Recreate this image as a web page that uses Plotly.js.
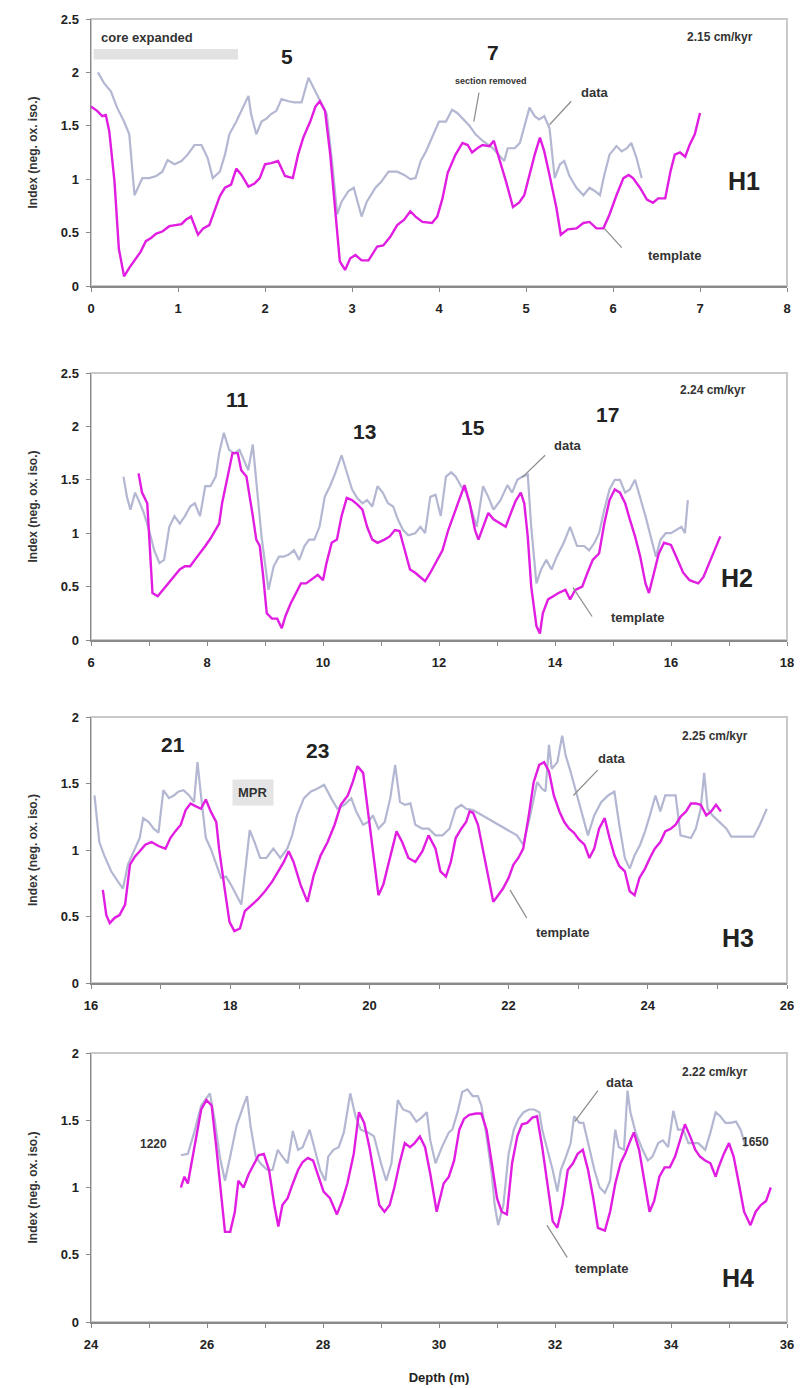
<!DOCTYPE html>
<html>
<head>
<meta charset="utf-8">
<script src="https://cdn.plot.ly/plotly-3.0.1.min.js"></script>
<style>
html,body{margin:0;padding:0;background:#fff;}
#chart{width:801px;height:1388px;}
</style>
</head>
<body>
<div id="chart"></div>
<script>
// ---------- H1 ----------
const h1TemplateDepth = [0,0.07,0.13,0.17,0.21,0.27,0.32,0.38,0.44,0.50,0.57,0.63,0.69,0.75,0.82,0.90,0.96,1.04,1.09,1.15,1.23,1.29,1.36,1.42,1.48,1.54,1.61,1.67,1.73,1.81,1.88,1.94,2.00,2.07,2.15,2.23,2.32,2.38,2.44,2.52,2.58,2.63,2.69,2.75,2.81,2.86,2.92,2.98,3.04,3.11,3.19,3.29,3.36,3.44,3.52,3.60,3.67,3.73,3.81,3.92,3.98,4.04,4.10,4.19,4.27,4.33,4.38,4.44,4.50,4.58,4.63,4.69,4.77,4.85,4.92,4.98,5.04,5.10,5.16,5.21,5.27,5.35,5.40,5.48,5.58,5.66,5.73,5.81,5.89,5.96,6.04,6.12,6.18,6.23,6.31,6.39,6.46,6.52,6.60,6.66,6.71,6.77,6.83,6.88,6.94,7.00];
const h1Template = [1.68,1.64,1.59,1.60,1.45,0.98,0.35,0.09,0.17,0.24,0.32,0.42,0.45,0.49,0.51,0.56,0.57,0.58,0.62,0.65,0.48,0.54,0.57,0.70,0.84,0.92,0.95,1.10,1.04,0.93,0.96,1.01,1.14,1.15,1.17,1.03,1.01,1.23,1.39,1.54,1.68,1.73,1.64,1.23,0.67,0.23,0.15,0.26,0.29,0.24,0.24,0.37,0.38,0.46,0.57,0.62,0.70,0.65,0.60,0.59,0.65,0.82,1.06,1.23,1.34,1.32,1.25,1.29,1.32,1.31,1.36,1.20,0.98,0.74,0.78,0.85,1.04,1.23,1.39,1.26,1.04,0.73,0.48,0.53,0.54,0.59,0.60,0.54,0.54,0.67,0.85,1.01,1.04,1.01,0.92,0.81,0.78,0.82,0.82,1.07,1.23,1.25,1.21,1.32,1.42,1.62];
const h1DataDepth = [0.08,0.15,0.23,0.30,0.38,0.44,0.50,0.54,0.59,0.67,0.75,0.82,0.88,0.96,1.04,1.11,1.19,1.27,1.34,1.40,1.48,1.54,1.59,1.67,1.75,1.81,1.84,1.90,1.96,2.02,2.07,2.13,2.19,2.27,2.34,2.42,2.50,2.58,2.65,2.71,2.77,2.83,2.88,2.96,3.02,3.06,3.11,3.17,3.27,3.34,3.42,3.52,3.60,3.67,3.73,3.79,3.85,3.92,4.00,4.08,4.15,4.21,4.27,4.35,4.42,4.50,4.62,4.75,4.79,4.87,4.93,4.99,5.04,5.10,5.15,5.21,5.27,5.33,5.39,5.44,5.50,5.58,5.66,5.73,5.79,5.85,5.90,5.96,6.04,6.10,6.16,6.21,6.27,6.33];
const h1Data = [2.00,1.90,1.82,1.67,1.54,1.42,0.85,0.92,1.01,1.01,1.03,1.07,1.18,1.14,1.17,1.23,1.32,1.32,1.20,1.01,1.07,1.23,1.42,1.54,1.67,1.78,1.61,1.42,1.54,1.57,1.61,1.64,1.75,1.73,1.72,1.72,1.95,1.82,1.72,1.61,1.17,0.67,0.79,0.89,0.92,0.79,0.65,0.79,0.92,0.98,1.07,1.07,1.04,1.00,1.01,1.17,1.26,1.39,1.54,1.54,1.65,1.62,1.57,1.50,1.42,1.36,1.29,1.17,1.29,1.29,1.34,1.51,1.67,1.59,1.56,1.59,1.48,1.01,1.14,1.17,1.03,0.92,0.85,0.92,0.89,0.85,1.04,1.23,1.31,1.26,1.29,1.34,1.20,1.01];

// ---------- H2 ----------
const h2TemplateDepth = [6.82,6.88,6.97,7.06,7.15,7.24,7.32,7.41,7.53,7.62,7.71,7.79,7.88,7.97,8.06,8.15,8.21,8.26,8.35,8.44,8.53,8.59,8.68,8.74,8.79,8.85,8.91,8.97,9.03,9.12,9.21,9.29,9.35,9.44,9.53,9.62,9.71,9.79,9.91,10.00,10.06,10.15,10.24,10.32,10.41,10.50,10.59,10.68,10.76,10.85,10.94,11.06,11.15,11.24,11.32,11.41,11.50,11.59,11.68,11.76,11.85,11.94,12.06,12.16,12.27,12.35,12.44,12.53,12.62,12.68,12.76,12.85,12.94,13.06,13.15,13.24,13.32,13.41,13.47,13.53,13.59,13.68,13.74,13.79,13.88,13.97,14.06,14.18,14.26,14.35,14.47,14.56,14.65,14.76,14.85,14.94,15.03,15.12,15.21,15.29,15.38,15.47,15.56,15.62,15.71,15.79,15.88,16.00,16.09,16.21,16.32,16.47,16.56,16.68,16.76,16.85];
const h2Template = [1.56,1.38,1.28,0.44,0.41,0.47,0.53,0.58,0.66,0.69,0.69,0.75,0.81,0.88,0.95,1.03,1.09,1.28,1.50,1.75,1.75,1.59,1.53,1.34,1.16,0.94,0.88,0.59,0.25,0.20,0.20,0.11,0.22,0.34,0.44,0.53,0.53,0.56,0.61,0.56,0.72,0.91,0.94,1.16,1.33,1.31,1.27,1.22,1.06,0.94,0.91,0.94,0.97,1.03,1.02,0.84,0.66,0.63,0.59,0.55,0.63,0.72,0.84,1.03,1.19,1.31,1.45,1.28,1.03,0.94,1.06,1.19,1.13,1.09,1.06,1.19,1.30,1.38,1.28,0.97,0.50,0.13,0.06,0.25,0.38,0.41,0.44,0.47,0.38,0.47,0.50,0.63,0.75,0.81,1.09,1.31,1.41,1.38,1.28,1.13,0.97,0.78,0.53,0.44,0.63,0.81,0.91,0.89,0.78,0.63,0.56,0.53,0.59,0.75,0.84,0.97];
const h2DataDepth = [6.56,6.62,6.68,6.76,6.82,6.91,7.00,7.09,7.18,7.26,7.35,7.44,7.53,7.62,7.71,7.79,7.88,7.97,8.06,8.15,8.21,8.29,8.38,8.47,8.56,8.65,8.71,8.79,8.85,8.94,9.06,9.15,9.24,9.32,9.41,9.50,9.59,9.68,9.76,9.85,9.94,10.03,10.12,10.21,10.32,10.41,10.50,10.59,10.68,10.76,10.85,10.94,11.03,11.12,11.21,11.29,11.38,11.47,11.59,11.68,11.76,11.85,11.94,12.03,12.12,12.21,12.29,12.38,12.47,12.56,12.65,12.76,12.85,12.94,13.06,13.18,13.26,13.35,13.44,13.53,13.59,13.68,13.76,13.85,13.94,14.03,14.15,14.26,14.38,14.50,14.59,14.68,14.76,14.85,14.94,15.03,15.12,15.21,15.29,15.38,15.47,15.56,15.65,15.74,15.82,15.91,16.00,16.09,16.18,16.24,16.29];
const h2Data = [1.53,1.34,1.22,1.38,1.31,1.19,1.03,0.84,0.72,0.75,1.06,1.16,1.09,1.16,1.25,1.28,1.16,1.44,1.44,1.53,1.75,1.94,1.78,1.75,1.78,1.66,1.59,1.83,1.50,0.97,0.47,0.69,0.78,0.78,0.80,0.84,0.75,0.88,0.94,0.94,1.06,1.34,1.44,1.56,1.73,1.56,1.41,1.33,1.28,1.31,1.25,1.44,1.38,1.28,1.25,1.13,1.03,0.98,1.00,1.06,1.00,1.34,1.36,1.16,1.53,1.57,1.53,1.44,1.38,1.22,1.06,1.44,1.34,1.22,1.31,1.45,1.38,1.50,1.53,1.55,1.06,0.53,0.66,0.75,0.66,0.78,0.91,1.06,0.88,0.88,0.84,0.91,1.00,1.22,1.41,1.50,1.50,1.38,1.41,1.50,1.34,1.16,0.97,0.78,0.94,1.00,1.00,1.03,1.06,1.00,1.31];

// ---------- H3 ----------
const h3TemplateDepth = [16.17,16.22,16.27,16.34,16.41,16.49,16.56,16.63,16.70,16.78,16.87,16.97,17.07,17.14,17.21,17.29,17.36,17.43,17.50,17.58,17.65,17.72,17.80,17.84,17.92,17.99,18.06,18.14,18.21,18.31,18.40,18.50,18.60,18.69,18.77,18.84,18.91,19.01,19.11,19.20,19.30,19.40,19.50,19.59,19.69,19.76,19.83,19.91,19.98,20.05,20.13,20.20,20.30,20.39,20.47,20.56,20.66,20.76,20.85,20.95,21.02,21.10,21.17,21.24,21.32,21.39,21.44,21.49,21.56,21.63,21.71,21.78,21.85,21.92,22.00,22.07,22.14,22.21,22.29,22.36,22.44,22.51,22.58,22.65,22.73,22.80,22.87,22.94,23.01,23.09,23.16,23.23,23.30,23.38,23.45,23.52,23.59,23.67,23.74,23.81,23.88,23.96,24.03,24.10,24.18,24.25,24.33,24.40,24.47,24.55,24.62,24.69,24.76,24.84,24.91,24.98,25.05];
const h3Template = [0.70,0.51,0.45,0.49,0.51,0.59,0.89,0.95,0.99,1.04,1.06,1.03,1.01,1.09,1.14,1.19,1.30,1.35,1.33,1.31,1.38,1.29,1.21,1.01,0.71,0.46,0.39,0.41,0.54,0.59,0.63,0.69,0.76,0.84,0.91,0.99,0.91,0.74,0.61,0.81,0.96,1.06,1.19,1.34,1.41,1.51,1.63,1.58,1.29,1.01,0.66,0.74,0.96,1.14,1.06,0.94,0.91,0.99,1.11,1.01,0.84,0.80,0.91,1.09,1.16,1.21,1.29,1.28,1.19,1.01,0.81,0.61,0.66,0.71,0.79,0.89,0.94,1.01,1.26,1.51,1.64,1.66,1.59,1.41,1.29,1.21,1.16,1.13,1.08,1.04,0.94,1.01,1.16,1.24,1.09,0.96,0.88,0.84,0.69,0.66,0.79,0.86,0.94,1.01,1.06,1.14,1.16,1.19,1.25,1.29,1.35,1.35,1.34,1.26,1.29,1.34,1.29];
const h3DataDepth = [16.05,16.12,16.19,16.29,16.39,16.46,16.53,16.63,16.70,16.75,16.83,16.90,16.97,17.04,17.12,17.19,17.26,17.33,17.41,17.48,17.53,17.58,17.65,17.72,17.80,17.87,17.94,18.01,18.09,18.16,18.23,18.28,18.35,18.43,18.52,18.62,18.72,18.82,18.89,18.96,19.06,19.16,19.25,19.35,19.45,19.54,19.64,19.74,19.81,19.91,19.98,20.05,20.13,20.22,20.30,20.37,20.44,20.51,20.59,20.66,20.76,20.85,20.95,21.05,21.15,21.24,21.32,21.39,21.49,22.12,22.21,22.31,22.41,22.48,22.53,22.58,22.62,22.70,22.77,22.82,22.89,22.99,23.06,23.14,23.23,23.33,23.43,23.52,23.59,23.67,23.74,23.81,23.89,23.96,24.03,24.11,24.18,24.25,24.33,24.40,24.47,24.55,24.62,24.69,24.76,24.81,24.86,24.93,25.03,25.13,25.20,25.32,25.42,25.52,25.61,25.71];
const h3Data = [1.41,1.06,0.96,0.84,0.76,0.71,0.89,1.01,1.09,1.24,1.21,1.16,1.13,1.45,1.39,1.41,1.44,1.45,1.41,1.36,1.66,1.41,1.09,1.01,0.89,0.79,0.80,0.74,0.66,0.59,0.91,1.15,1.06,0.94,0.94,1.01,0.94,1.01,1.11,1.26,1.39,1.44,1.46,1.49,1.39,1.31,1.34,1.39,1.29,1.19,1.21,1.26,1.16,1.21,1.39,1.64,1.36,1.34,1.35,1.19,1.16,1.16,1.11,1.11,1.16,1.31,1.34,1.31,1.30,1.11,1.04,1.26,1.51,1.46,1.44,1.79,1.61,1.66,1.86,1.71,1.59,1.39,1.26,1.11,1.26,1.36,1.41,1.44,1.19,0.94,0.86,0.96,1.04,1.14,1.26,1.41,1.29,1.41,1.41,1.41,1.11,1.10,1.09,1.16,1.31,1.58,1.31,1.26,1.21,1.16,1.10,1.10,1.10,1.10,1.19,1.31];

// ---------- H4 ----------
const h4TemplateDepth = [25.55,25.61,25.67,25.73,25.81,25.90,25.99,26.08,26.16,26.25,26.31,26.40,26.48,26.54,26.63,26.72,26.81,26.89,26.98,27.07,27.16,27.23,27.30,27.39,27.48,27.57,27.65,27.74,27.83,27.92,28.01,28.12,28.24,28.33,28.42,28.53,28.62,28.71,28.80,28.88,28.97,29.06,29.15,29.23,29.32,29.41,29.50,29.58,29.67,29.76,29.85,29.96,30.08,30.17,30.26,30.35,30.43,30.52,30.64,30.73,30.82,30.91,31.00,31.08,31.17,31.26,31.35,31.43,31.52,31.61,31.69,31.78,31.87,31.96,32.04,32.13,32.22,32.31,32.39,32.48,32.57,32.66,32.74,32.86,32.95,33.04,33.13,33.21,33.30,33.36,33.45,33.54,33.63,33.71,33.80,33.89,33.98,34.07,34.15,34.24,34.33,34.42,34.50,34.59,34.68,34.77,34.82,34.91,35.00,35.08,35.17,35.26,35.37,35.46,35.55,35.64,35.72];
const h4Template = [1.00,1.08,1.03,1.18,1.38,1.58,1.65,1.61,1.30,0.92,0.67,0.67,0.82,1.05,1.00,1.10,1.18,1.24,1.25,1.13,0.87,0.71,0.87,0.92,1.03,1.13,1.19,1.22,1.20,1.08,0.97,0.92,0.80,0.90,1.03,1.25,1.56,1.48,1.30,1.10,0.87,0.82,0.87,1.00,1.18,1.33,1.30,1.33,1.38,1.30,1.10,0.82,1.03,1.08,1.20,1.43,1.51,1.54,1.55,1.55,1.43,1.18,0.92,0.82,0.80,1.18,1.38,1.47,1.48,1.52,1.53,1.30,1.03,0.75,0.70,0.87,1.13,1.18,1.25,1.28,1.13,0.92,0.70,0.68,0.82,1.03,1.18,1.25,1.35,1.41,1.28,1.05,0.82,0.90,1.08,1.15,1.15,1.23,1.35,1.47,1.38,1.28,1.23,1.20,1.18,1.08,1.15,1.25,1.33,1.23,1.03,0.82,0.72,0.82,0.87,0.90,1.00];
const h4DataDepth = [25.55,25.67,25.78,25.90,26.05,26.13,26.22,26.31,26.40,26.51,26.63,26.69,26.75,26.84,26.92,27.04,27.13,27.22,27.30,27.39,27.48,27.57,27.65,27.77,27.86,27.95,28.04,28.09,28.18,28.27,28.36,28.47,28.56,28.65,28.77,28.88,29.00,29.09,29.18,29.29,29.38,29.50,29.61,29.70,29.79,29.85,29.94,30.05,30.17,30.23,30.32,30.40,30.49,30.58,30.67,30.73,30.82,30.91,30.96,31.02,31.11,31.20,31.29,31.37,31.46,31.55,31.64,31.73,31.78,31.87,31.96,32.04,32.10,32.19,32.27,32.33,32.42,32.49,32.59,32.68,32.77,32.86,32.95,33.04,33.10,33.19,33.25,33.30,33.39,33.51,33.60,33.68,33.78,33.86,33.95,34.04,34.12,34.21,34.30,34.39,34.47,34.59,34.68,34.77,34.85,34.94,35.03,35.12,35.20,35.29];
const h4Data = [1.24,1.25,1.41,1.61,1.70,1.51,1.23,1.05,1.23,1.46,1.61,1.68,1.46,1.23,1.18,1.13,1.13,1.28,1.23,1.18,1.42,1.28,1.30,1.43,1.28,1.13,1.05,1.23,1.28,1.30,1.41,1.70,1.53,1.43,1.41,1.38,1.18,1.05,1.18,1.65,1.58,1.56,1.49,1.52,1.56,1.35,1.18,1.30,1.41,1.43,1.56,1.71,1.73,1.68,1.68,1.61,1.38,1.10,0.87,0.72,0.87,1.25,1.43,1.51,1.56,1.58,1.58,1.56,1.43,1.28,1.13,0.97,1.13,1.23,1.33,1.53,1.48,1.48,1.30,1.13,1.00,0.96,1.05,1.43,1.30,1.28,1.72,1.56,1.41,1.28,1.20,1.23,1.33,1.35,1.30,1.57,1.43,1.43,1.33,1.33,1.33,1.28,1.41,1.56,1.53,1.48,1.48,1.49,1.43,1.30];

// panel labels / rates
const panelNames = ['H1','H2','H3','H4'];
const rates = ['2.15 cm/kyr','2.24 cm/kyr','2.25 cm/kyr','2.22 cm/kyr'];
const xRanges = [[0,8],[6,18],[16,26],[24,36]];
const yRanges = [[0,2.5],[0,2.5],[0,2],[0,2]];

const TEMPLATE_COLOR = '#e11de1';
const DATA_COLOR = '#b3b7d2';
const FONT = 'Liberation Sans, Arial, sans-serif';
const TXT = '#333333';

const series = [
  [h1TemplateDepth,h1Template,h1DataDepth,h1Data],
  [h2TemplateDepth,h2Template,h2DataDepth,h2Data],
  [h3TemplateDepth,h3Template,h3DataDepth,h3Data],
  [h4TemplateDepth,h4Template,h4DataDepth,h4Data]
];

function pair(xs, ys){ const n=Math.min(xs.length, ys.length); return [xs.slice(0,n), ys.slice(0,n)]; }

const traces = [];
series.forEach((s,i)=>{
  const ax = i===0 ? '' : String(i+1);
  const d = pair(s[2], s[3]);
  const t = pair(s[0], s[1]);
  traces.push({x:d[0], y:d[1], type:'scatter', mode:'lines', name:'data',
    line:{color:DATA_COLOR, width:2.2}, xaxis:'x'+ax, yaxis:'y'+ax, hoverinfo:'skip'});
  traces.push({x:t[0], y:t[1], type:'scatter', mode:'lines', name:'template',
    line:{color:TEMPLATE_COLOR, width:2.4}, xaxis:'x'+ax, yaxis:'y'+ax, hoverinfo:'skip'});
});

const W = 801, H = 1388;
const plotLeft = 91, plotRight = 787;
const panelPx = [[19,286],[373,640],[717,983],[1053,1322]]; // top,bottom pixel rows

const layout = {
  width: W, height: H,
  margin:{l:0,r:0,t:0,b:0},
  paper_bgcolor:'#fff', plot_bgcolor:'#fff',
  showlegend:false,
  font:{family:FONT, color:TXT},
  shapes:[], annotations:[]
};

const tickFont = {family:FONT, size:13, color:'#222', weight:'bold'};
panelPx.forEach((p,i)=>{
  const ax = i===0 ? '' : String(i+1);
  const xa = {
    domain:[plotLeft/W, plotRight/W], anchor:'y'+ax, range:xRanges[i],
    dtick: i===0 ? 1 : 2, tick0: xRanges[i][0],
    ticks:'outside', ticklen:4, tickcolor:'#888', tickwidth:1,
    showline:true, linecolor:'#8a8a8a', linewidth:1.5,
    showgrid:false, zeroline:false, tickfont:tickFont, fixedrange:true,
    ticklabelstandoff:6
  };
  if (i>0) xa.minor = {dtick:1, tick0:xRanges[i][0], ticks:'outside', ticklen:4, tickcolor:'#888', showgrid:false};
  if (i===3) xa.title = {text:'Depth (m)', font:{family:FONT, size:13, color:'#222', weight:'bold'}, standoff:22};
  const ya = {
    domain:[1-p[1]/H, 1-p[0]/H], anchor:'x'+ax, range:yRanges[i], dtick:0.5,
    ticks:'outside', ticklen:4, tickcolor:'#888',
    showline:true, linecolor:'#8a8a8a', linewidth:1.5,
    showgrid:false, zeroline:false, tickfont:tickFont, fixedrange:true,
    ticklabelstandoff:4,
    title:{text:'Index (neg. ox. iso.)', font:{family:FONT, size:12, color:'#333', weight:'bold'}, standoff:20}
  };
  layout['xaxis'+ax] = xa;
  layout['yaxis'+ax] = ya;
  // light frame
  layout.shapes.push({type:'rect', xref:'x'+ax+' domain', yref:'y'+ax+' domain', x0:0, x1:1, y0:0, y1:1,
    line:{color:'#c9c9c9', width:2}, layer:'below'});
});

function ann(ax, x, y, text, size, opts){
  return Object.assign({xref:'x'+ax, yref:'y'+ax, x:x, y:y, text:text, showarrow:false,
    font:{family:FONT, size:size, color:TXT, weight:'bold'}}, opts||{});
}
function leader(ax, x0, y0, x1, y1){
  return {type:'line', xref:'x'+ax, yref:'y'+ax, x0:x0, y0:y0, x1:x1, y1:y1, line:{color:'#8c8c8c', width:1.2}};
}

// Panel 1
layout.shapes.push({type:'rect', xref:'x', yref:'y', x0:0.03, x1:1.69, y0:2.12, y1:2.22, fillcolor:'#e2e2e2', line:{width:0}, layer:'below'});
layout.annotations.push(ann('', 0.09, 2.33, 'core expanded', 13, {xanchor:'left'}));
const big = s => ({font:{family:FONT,size:s,color:'#222',weight:'bold'}});
layout.annotations.push(ann('', 2.25, 2.15, '5', 21, big(21)));
layout.annotations.push(ann('', 4.62, 2.19, '7', 21, big(21)));
layout.annotations.push(ann('', 4.60, 1.92, 'section removed', 9));
layout.annotations.push(ann('', 5.79, 1.81, 'data', 13));
layout.annotations.push(ann('', 7.23, 2.33, rates[0], 12));
layout.annotations.push(ann('', 7.51, 0.98, panelNames[0], 25, big(25)));
layout.annotations.push(ann('', 6.71, 0.29, 'template', 13));
layout.shapes.push(leader('', 4.46, 1.81, 4.40, 1.54));
layout.shapes.push(leader('', 5.52, 1.73, 5.27, 1.51));
layout.shapes.push(leader('', 6.10, 0.36, 5.90, 0.54));

// Panel 2
layout.annotations.push(ann('2', 8.52, 2.25, '11', 21, big(21)));
layout.annotations.push(ann('2', 10.72, 1.95, '13', 21, big(21)));
layout.annotations.push(ann('2', 12.59, 1.99, '15', 21, big(21)));
layout.annotations.push(ann('2', 14.91, 2.11, '17', 21, big(21)));
layout.annotations.push(ann('2', 14.22, 1.82, 'data', 13));
layout.annotations.push(ann('2', 16.72, 2.34, rates[1], 12));
layout.annotations.push(ann('2', 17.14, 0.58, panelNames[1], 25, big(25)));
layout.annotations.push(ann('2', 15.43, 0.21, 'template', 13));
layout.shapes.push(leader('2', 13.83, 1.73, 13.43, 1.52));
layout.shapes.push(leader('2', 14.64, 0.22, 14.31, 0.49));

// Panel 3
layout.annotations.push(ann('3', 17.18, 1.79, '21', 21, big(21)));
layout.annotations.push(ann('3', 19.26, 1.75, '23', 21, big(21)));
layout.annotations.push(ann('3', 18.33, 1.43, 'MPR', 13, {bgcolor:'#e4e4e4', borderpad:5}));
layout.annotations.push(ann('3', 23.49, 1.69, 'data', 13));
layout.annotations.push(ann('3', 24.97, 1.86, rates[2], 12));
layout.annotations.push(ann('3', 25.30, 0.34, panelNames[2], 25, big(25)));
layout.annotations.push(ann('3', 22.77, 0.38, 'template', 13));
layout.shapes.push(leader('3', 23.28, 1.60, 22.93, 1.41));
layout.shapes.push(leader('3', 22.26, 0.49, 22.02, 0.70));

// Panel 4
layout.annotations.push(ann('4', 34.76, 1.86, rates[3], 12));
layout.annotations.push(ann('4', 33.12, 1.78, 'data', 13));
layout.annotations.push(ann('4', 25.07, 1.32, '1220', 12));
layout.annotations.push(ann('4', 35.45, 1.34, '1650', 12));
layout.annotations.push(ann('4', 35.16, 0.33, panelNames[3], 25, big(25)));
layout.annotations.push(ann('4', 32.81, 0.40, 'template', 13));
layout.shapes.push(leader('4', 32.74, 1.72, 32.34, 1.49));
layout.shapes.push(leader('4', 32.21, 0.48, 31.86, 0.72));

Plotly.newPlot('chart', traces, layout, {staticPlot:true, displayModeBar:false});
</script>
</body>
</html>
